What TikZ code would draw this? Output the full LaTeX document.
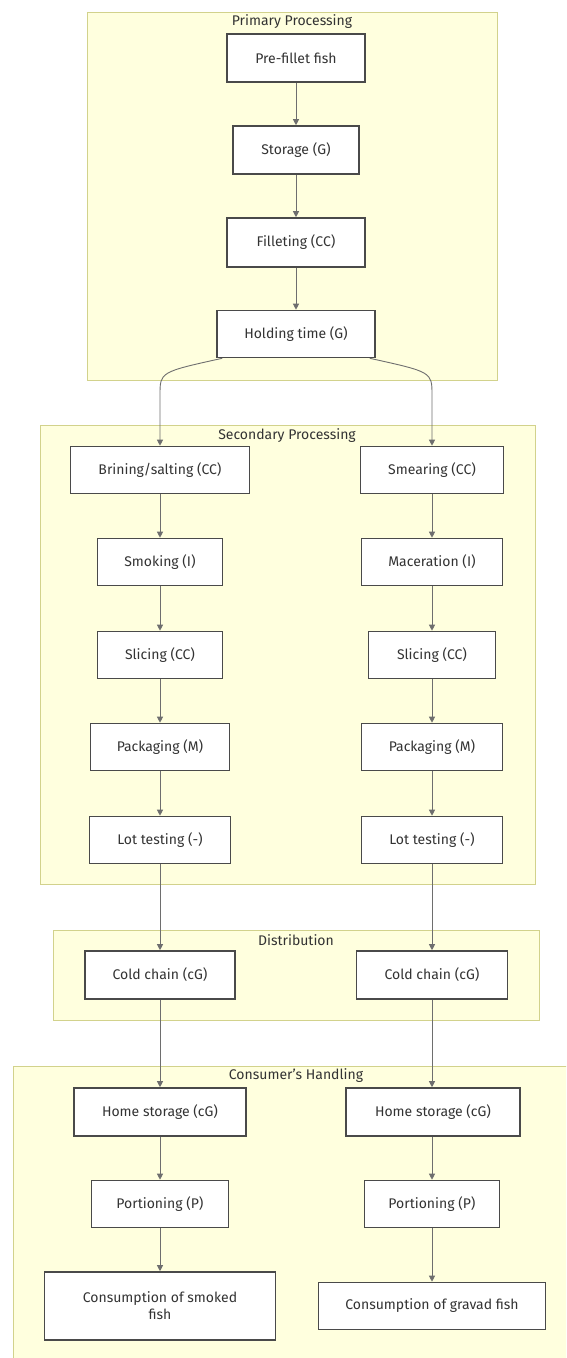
\documentclass[tikz,border=0pt]{standalone}
\usepackage{fontspec}
\setmainfont{Fira Sans}
\usetikzlibrary{arrows.meta}
\definecolor{clfill}{HTML}{FFFFDE}
\definecolor{clline}{HTML}{D2D28C}
\definecolor{txt}{HTML}{333333}
\definecolor{bord}{HTML}{4A4A4A}
\definecolor{edge}{HTML}{6E6E6E}
\tikzset{
  box/.style={draw=bord, line width=1.6pt, fill=white, minimum height=47pt, inner sep=0pt, text=txt, font=\fontsize{14}{17}\selectfont, align=center},
  cluster/.style={draw=clline, fill=clfill, line width=1pt},
  cltitle/.style={text=txt, font=\fontsize{14}{17}\selectfont, inner sep=0pt},
  flow/.style={draw=edge, line width=0.9pt, -{Triangle[length=6pt,width=6pt]}},
}
\begin{document}
\begin{tikzpicture}[x=1pt,y=1pt]
\useasboundingbox (0,0) rectangle (566,-1358);
\clip (0,0) rectangle (566,-1358);
% clusters
\path[cluster] (87,-12) rectangle (497,-380);
\node[cltitle] (t1) at (292,-22) {Primary Processing};
\path[cluster] (40,-425) rectangle (535,-884);
\node[cltitle] (t2) at (287,-436) {Secondary Processing};
\path[cluster] (53,-930) rectangle (539,-1020);
\node[cltitle] (t3) at (296,-940) {Distribution};
\path[cluster] (13,-1066) rectangle (579,-1370);
\node[cltitle] (t4) at (296,-1076) {Consumer's Handling};
% primary
\node[box, minimum width=138pt, minimum height=48pt] (pre) at (296,-58) {Pre-fillet fish};
\node[box, minimum width=126pt, minimum height=48pt] (stor) at (296,-150) {Storage (G)};
\node[box, minimum width=138pt, minimum height=49pt] (fil) at (296,-242.5) {Filleting (CC)};
\node[box, minimum width=158pt] (hold) at (296,-334) {Holding time (G)};
% secondary left
\node[box, minimum width=179pt] (brine) at (160,-470) {Brining/salting (CC)};
\node[box, minimum width=125pt] (smoke) at (160,-562) {Smoking (I)};
\node[box, minimum width=125pt] (sliceA) at (160,-655) {Slicing (CC)};
\node[box, minimum width=139pt] (packA) at (160,-747) {Packaging (M)};
\node[box, minimum width=141pt] (lotA) at (160,-840) {Lot testing (-)};
% secondary right
\node[box, minimum width=143pt] (smear) at (432,-470) {Smearing (CC)};
\node[box, minimum width=141pt] (mac) at (432,-562) {Maceration (I)};
\node[box, minimum width=127pt] (sliceB) at (432,-655) {Slicing (CC)};
\node[box, minimum width=141pt] (packB) at (432,-747) {Packaging (M)};
\node[box, minimum width=141pt] (lotB) at (432,-840) {Lot testing (-)};
% distribution
\node[box, minimum width=150pt, minimum height=48pt] (coldA) at (160,-975) {Cold chain (cG)};
\node[box, minimum width=151pt, minimum height=48pt] (coldB) at (432,-975) {Cold chain (cG)};
% consumer
\node[box, minimum width=172pt, minimum height=48pt] (homeA) at (160,-1112) {Home storage (cG)};
\node[box, minimum width=174pt, minimum height=48pt] (homeB) at (433,-1112) {Home storage (cG)};
\node[box, minimum width=137pt] (portA) at (160,-1204) {Portioning (P)};
\node[box, minimum width=135pt] (portB) at (432,-1204) {Portioning (P)};
\node[box, minimum width=231pt, minimum height=68pt] (consA) at (160,-1306) {Consumption of smoked\\fish};
\node[box, minimum width=227pt] (consB) at (432,-1306) {Consumption of gravad fish};
% edges
\draw[flow] (pre) -- (stor);
\draw[flow] (stor) -- (fil);
\draw[flow] (fil) -- (hold);
\draw[flow] ([xshift=6pt]hold.south west) .. controls (160,-372) .. (160,-395) -- (brine.north);
\draw[flow] ([xshift=-6pt]hold.south east) .. controls (432,-372) .. (432,-395) -- (smear.north);
\draw[flow] (brine) -- (smoke);
\draw[flow] (smoke) -- (sliceA);
\draw[flow] (sliceA) -- (packA);
\draw[flow] (packA) -- (lotA);
\draw[flow] (smear) -- (mac);
\draw[flow] (mac) -- (sliceB);
\draw[flow] (sliceB) -- (packB);
\draw[flow] (packB) -- (lotB);
\draw[flow] (lotA) -- (coldA);
\draw[flow] (lotB) -- (coldB);
\draw[flow] (coldA) -- (homeA);
\draw[flow] (coldB.south) -- (coldB.south |- homeB.north);
\draw[flow] (homeA) -- (portA);
\draw[flow] (homeB.south -| portB.north) -- (portB);
\draw[flow] (portA) -- (consA);
\draw[flow] (portB) -- (consB);
\end{tikzpicture}
\end{document}
